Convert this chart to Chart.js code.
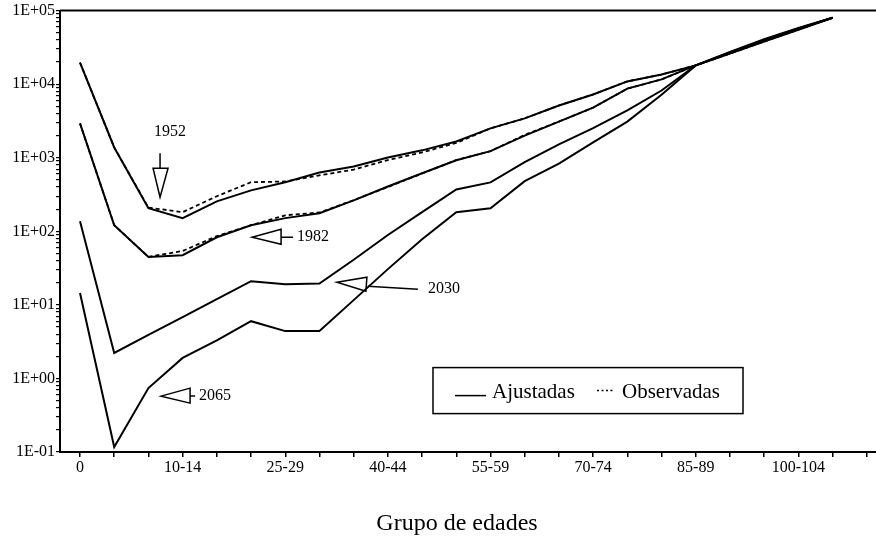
<!DOCTYPE html>
<html>
<head>
<meta charset="utf-8">
<script src="https://cdn.jsdelivr.net/npm/chart.js@4.4.1/dist/chart.umd.min.js"></script>
<style>
  body { margin: 0; background: #fff; }
  #wrap { width: 876px; height: 546px; }
</style>
</head>
<body>
<div id="wrap"><canvas id="mortChart"></canvas></div>
<script>
var serif = '"Liberation Serif", "Times New Roman", serif';

// age groups (one point per group)
var ageGroups = ['0', '1-4', '5-9', '10-14', '15-19', '20-24', '25-29', '30-34', '35-39', '40-44',
  '45-49', '50-54', '55-59', '60-64', '65-69', '70-74', '75-79', '80-84', '85-89', '90-94',
  '95-99', '100-104', '105-109'];
var shownGroups = ['0', '10-14', '25-29', '40-44', '55-59', '70-74', '85-89', '100-104'];

var decades = [0.1, 1, 10, 100, 1000, 10000, 100000];
var decadeLabels = ['1E-01', '1E+00', '1E+01', '1E+02', '1E+03', '1E+04', '1E+05'];

// fitted (Ajustadas) and observed (Observadas) rates
var fit1952 = [19700, 1380, 206, 151, 255, 360, 463, 630, 760, 1010, 1260, 1660, 2510, 3430, 5130, 7250, 10900, 13500, 18000, 26000, 38000, 55000, 80000];
var obs1952 = [19700, 1380, 210, 182, 300, 465, 475, 575, 690, 930, 1180, 1590, 2510, 3430, 5130, 7250, 10900, 13500, 18000, 26000, 38000, 55000, 80000];
var fit1982 = [2930, 121, 44.6, 47.4, 83, 121, 151, 176, 263, 407, 616, 922, 1230, 2000, 3100, 4800, 8700, 11600, 18000, 26500, 39000, 56000, 80000];
var obs1982 = [2930, 121, 45, 54, 86, 121, 165, 180, 265, 400, 610, 930, 1230, 2050, 3100, 4800, 8700, 11600, 18000, 26500, 39000, 56000, 80000];
var fit2030 = [137, 2.22, 3.9, 6.8, 12, 21, 19, 19.5, 41, 89, 182, 370, 462, 870, 1520, 2520, 4400, 8200, 18000, 27000, 40000, 57000, 80000];
var fit2065 = [14.5, 0.117, 0.74, 1.9, 3.3, 6.0, 4.4, 4.4, 11.6, 30.6, 78, 182, 205, 480, 830, 1620, 3100, 7200, 18000, 27500, 41000, 58000, 80000];

var legendNames = ['Ajustadas', 'Observadas'];

// year notes: arrow tip in data space (group index, rate)
var notes = [
  { year: '1952', dir: 'down', x: 2.34, y: 290 },
  { year: '1982', dir: 'left', x: 5.03, y: 83 },
  { year: '2030', dir: 'slant', x: 7.51, y: 20.3 },
  { year: '2065', dir: 'left', x: 2.37, y: 0.575 }
];

function pts(arr) {
  return arr.map(function (v, i) { return { x: i, y: v }; });
}

function solid(label, arr) {
  return { label: label, data: pts(arr), borderColor: '#000', borderWidth: 2, pointRadius: 0, tension: 0 };
}
function dotted(label, arr) {
  return { label: label, data: pts(arr), borderColor: '#000', borderWidth: 1.8, borderDash: [4, 3], pointRadius: 0, tension: 0 };
}

var extras = {
  id: 'extras',
  afterDraw: function (chart) {
    var ctx = chart.ctx, a = chart.chartArea;
    var xs = chart.scales.x, ys = chart.scales.y;
    ctx.save();
    ctx.strokeStyle = '#000';
    ctx.fillStyle = '#000';

    // top frame line
    ctx.lineWidth = 2;
    ctx.beginPath();
    ctx.moveTo(a.left, a.top);
    ctx.lineTo(a.right, a.top);
    ctx.stroke();

    // arrows with year labels
    ctx.lineWidth = 1.5;
    ctx.font = '16px ' + serif;
    ctx.textBaseline = 'middle';
    notes.forEach(function (n) {
      var px = xs.getPixelForValue(n.x), py = ys.getPixelForValue(n.y);
      ctx.beginPath();
      if (n.dir === 'down') {
        ctx.moveTo(px, py); ctx.lineTo(px - 7, py - 29); ctx.lineTo(px + 8, py - 29); ctx.closePath();
        ctx.moveTo(px, py - 29); ctx.lineTo(px, py - 44);
        ctx.stroke();
        ctx.textAlign = 'center';
        ctx.fillText(n.year, px + 10, py - 65);
      } else if (n.dir === 'left') {
        var stem = n.year === '1982' ? 12 : 5;
        ctx.moveTo(px, py); ctx.lineTo(px + 29, py - 8); ctx.lineTo(px + 29, py + 7); ctx.closePath();
        ctx.moveTo(px + 29, py); ctx.lineTo(px + 29 + stem, py);
        ctx.stroke();
        ctx.textAlign = 'left';
        ctx.fillText(n.year, px + 29 + stem + 4, py);
      } else {
        ctx.moveTo(px, py); ctx.lineTo(px + 30, py - 5); ctx.lineTo(px + 29, py + 9); ctx.closePath();
        ctx.moveTo(px + 31, py + 4); ctx.lineTo(px + 81, py + 7);
        ctx.stroke();
        ctx.textAlign = 'left';
        ctx.fillText(n.year, px + 91, py + 7);
      }
    });

    // legend box
    var bx = a.left + 373, by = a.top + 357;
    ctx.lineWidth = 1.5;
    ctx.strokeRect(bx, by, 310, 46);
    ctx.lineWidth = 1.5;
    ctx.beginPath();
    ctx.moveTo(bx + 22, by + 28); ctx.lineTo(bx + 53, by + 28);
    ctx.stroke();
    ctx.setLineDash([2, 2.5]);
    ctx.beginPath();
    ctx.moveTo(bx + 164, by + 23); ctx.lineTo(bx + 180, by + 23);
    ctx.stroke();
    ctx.setLineDash([]);
    ctx.font = '21px ' + serif;
    ctx.textAlign = 'left';
    ctx.fillText(legendNames[0], bx + 59, by + 25);
    ctx.fillText(legendNames[1], bx + 189, by + 25);

    // axis title
    ctx.font = '24px ' + serif;
    ctx.textAlign = 'center';
    ctx.fillText('Grupo de edades', a.left + 397, a.bottom + 72);
    ctx.restore();
  }
};

new Chart(document.getElementById('mortChart'), {
  type: 'line',
  data: {
    datasets: [
      solid('1952 ajustadas', fit1952),
      dotted('1952 observadas', obs1952),
      solid('1982 ajustadas', fit1982),
      dotted('1982 observadas', obs1982),
      solid('2030', fit2030),
      solid('2065', fit2065)
    ]
  },
  options: {
    responsive: true,
    maintainAspectRatio: false,
    animation: false,
    layout: { padding: { top: 10, left: 0, right: 0, bottom: 0 } },
    plugins: { legend: { display: false }, tooltip: { enabled: false } },
    scales: {
      x: {
        type: 'linear',
        min: -0.585,
        max: 23.27,
        afterBuildTicks: function (scale) {
          var t = [];
          for (var i = 0; i <= 23; i++) t.push({ value: i });
          scale.ticks = t;
        },
        afterFit: function (scale) { scale.height = 94; },
        grid: { drawOnChartArea: false, drawTicks: true, tickLength: 5, color: '#000', lineWidth: 1.5 },
        border: { display: true, color: '#000', width: 2 },
        ticks: {
          autoSkip: false, maxRotation: 0, padding: 1, color: '#000',
          font: { family: serif, size: 16 },
          callback: function (v) {
            var g = ageGroups[v];
            return shownGroups.indexOf(g) >= 0 ? g : '';
          }
        }
      },
      y: {
        type: 'logarithmic',
        min: 0.1,
        max: 100000,
        afterBuildTicks: function (scale) {
          var t = [];
          for (var e = -1; e <= 5; e++) {
            for (var m = 1; m <= 9; m++) {
              var v = m * Math.pow(10, e);
              if (v <= 100000 * 1.0001) t.push({ value: v });
            }
          }
          scale.ticks = t;
        },
        afterFit: function (scale) { scale.width = 60; },
        grid: { drawOnChartArea: false, drawTicks: true, tickLength: 4, color: '#000', lineWidth: 1.2 },
        border: { display: true, color: '#000', width: 2 },
        ticks: {
          autoSkip: false, padding: 1, color: '#000',
          font: { family: serif, size: 16 },
          callback: function (v) {
            for (var k = 0; k < decades.length; k++) {
              if (Math.abs(v / decades[k] - 1) < 1e-6) return decadeLabels[k];
            }
            return '';
          }
        }
      }
    }
  },
  plugins: [extras]
});
</script>
</body>
</html>
